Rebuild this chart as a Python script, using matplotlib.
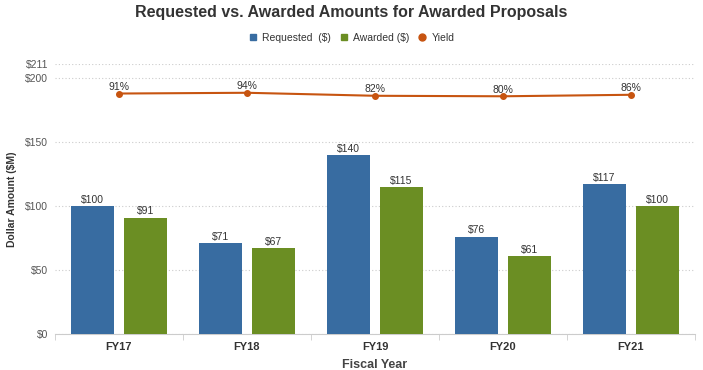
import matplotlib.pyplot as plt
import numpy as np
from matplotlib.lines import Line2D

plt.rcParams['font.family'] = ['Liberation Sans', 'DejaVu Sans']

years = ['FY17', 'FY18', 'FY19', 'FY20', 'FY21']
requested = [100, 71, 140, 76, 117]
awarded = [91, 67, 115, 61, 100]
yield_pct = [91, 94, 82, 80, 86]
yticks = [0, 50, 100, 150, 200, 211]

c_req = '#386ca1'
c_awd = '#6b8e23'
c_yld = '#c75410'
txt = '#333333'

fig = plt.figure(figsize=(7.03, 3.70), dpi=100)
ax = fig.add_axes([55 / 703, 36 / 370, 640 / 703, 270 / 370])

x = np.arange(len(years))
w = 0.336
off = 0.207
b1 = ax.bar(x - off, requested, w, color=c_req, zorder=3)
b2 = ax.bar(x + off, awarded, w, color=c_awd, zorder=3)
for bars, vals in ((b1, requested), (b2, awarded)):
    for r, v in zip(bars, vals):
        ax.text(r.get_x() + r.get_width() / 2, v + 1, f'${v}', ha='center',
                va='bottom', fontsize=7.5, color=txt)

ax.set_xlim(-0.5, len(years) - 0.5)
ax.set_ylim(0, 211)
ax.set_yticks(yticks)
ax.set_yticklabels([f'${t}' for t in yticks], fontsize=7.5, color='#555555')
ax.yaxis.grid(True, linestyle=(0, (1, 2)), color='#cccccc', linewidth=0.8)
ax.set_axisbelow(True)
ax.tick_params(axis='y', length=0, pad=5)
ax.set_xticks(x)
ax.set_xticklabels(years, fontsize=8, fontweight='bold', color=txt)
ax.set_xticks(np.arange(len(years) + 1) - 0.5, minor=True)
ax.tick_params(axis='x', which='major', length=0, pad=6)
ax.tick_params(axis='x', which='minor', length=4, color='#cccccc')
for s in ['top', 'right', 'left']:
    ax.spines[s].set_visible(False)
ax.spines['bottom'].set_color('#cccccc')
ax.set_ylabel('Dollar Amount ($M)', fontsize=7.5, fontweight='bold', color=txt, labelpad=6)
ax.set_xlabel('Fiscal Year', fontsize=9, fontweight='bold', color='#444444', labelpad=5)

# yield on a hidden secondary axis
ay = ax.twinx()
ay.plot(x, yield_pct, color=c_yld, marker='o', markersize=4, linewidth=1.5, zorder=4)
for xi, v in zip(x, yield_pct):
    ay.text(xi, v + 6, f'{v}%', ha='center', va='bottom', fontsize=7.5, color=txt)
ay.set_ylim(-870, 209)
ay.axis('off')

fig.text(0.5, 1 - 12 / 370, 'Requested vs. Awarded Amounts for Awarded Proposals',
         ha='center', va='center', fontsize=11.5, fontweight='bold', color='#333333')

handles = [
    Line2D([], [], marker='s', linestyle='', color=c_req, markersize=5),
    Line2D([], [], marker='s', linestyle='', color=c_awd, markersize=5),
    Line2D([], [], marker='o', linestyle='', color=c_yld, markersize=5),
]
fig.legend(handles, ['Requested  ($)', 'Awarded ($)', 'Yield'], loc='center',
           bbox_to_anchor=(0.5, 1 - 38 / 370), ncol=3, frameon=False, fontsize=7.5,
           handlelength=0.8, handletextpad=0.5, columnspacing=0.8, labelcolor='#333333')

fig.savefig('out.png', dpi=100)
